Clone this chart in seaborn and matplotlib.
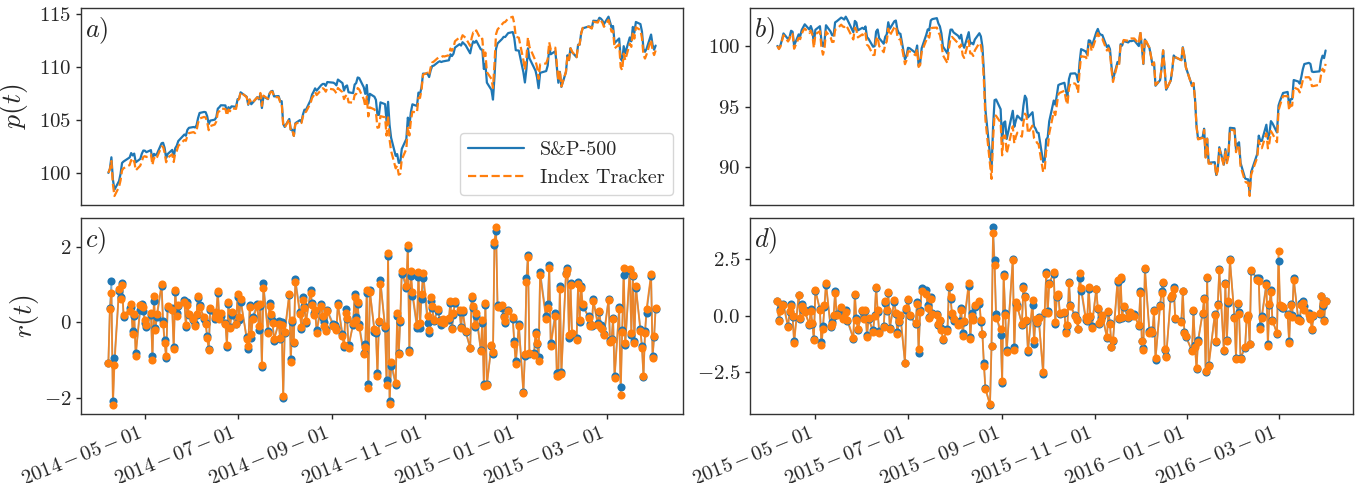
import numpy as np
import pandas as pd
import matplotlib
matplotlib.use('Agg')
import matplotlib.pyplot as plt
import matplotlib.dates as mdates
import matplotlib.ticker as mticker
import seaborn as sns

# NYSE holidays inside the two windows
holidays = ['2014-04-18', '2014-05-26', '2014-07-04', '2014-09-01', '2014-11-27', '2014-12-25',
            '2015-01-01', '2015-01-19', '2015-02-16', '2015-04-03', '2015-05-25', '2015-07-03',
            '2015-09-07', '2015-11-26', '2015-12-25', '2016-01-01', '2016-01-18', '2016-02-15',
            '2016-03-25']

# S&P-500 closes, first value is the day before the window (used for the first return)
sp_close_a = [
    1865.09, 1845.04, 1851.96, 1872.18, 1833.08, 1815.69, 1830.61, 1842.98, 1862.31, 1864.85,
    1871.89, 1879.55, 1875.39, 1878.61, 1863.40, 1869.43, 1878.33, 1883.95,
    1883.68, 1881.14, 1884.66, 1867.72, 1878.21, 1875.63, 1878.48, 1896.65, 1897.45, 1888.53,
    1870.85, 1877.86, 1885.08, 1872.83, 1888.03, 1892.49, 1900.53, 1911.91, 1909.78, 1920.03, 1923.57,
    1924.97, 1924.24, 1927.88, 1940.46, 1949.44, 1951.27, 1950.79, 1943.89, 1930.11, 1936.16,
    1937.78, 1941.99, 1956.98, 1959.48, 1962.87, 1962.61, 1949.98, 1959.53, 1957.22, 1960.96, 1960.23,
    1973.32, 1974.62, 1985.44, 1977.65, 1963.71, 1972.83, 1964.68, 1967.57, 1977.10, 1973.28,
    1981.57, 1958.12, 1978.22, 1973.63, 1983.53, 1987.01, 1987.98, 1978.34, 1978.91, 1969.95,
    1970.07, 1930.67,
    1925.15, 1938.99, 1920.21, 1920.24, 1909.57, 1931.59, 1936.92, 1933.75, 1946.72, 1955.18,
    1955.06, 1971.74, 1981.60, 1986.51, 1992.37, 1988.40, 1997.92, 2000.02, 2000.12, 1996.74, 2003.37,
    2002.28, 2000.72, 1997.65, 2007.71, 2001.54, 1988.44, 1995.69, 1997.45, 1985.54, 1984.13,
    1998.98, 2001.57, 2011.36, 2010.40, 1994.29, 1982.77, 1998.30, 1965.99, 1982.85, 1977.80, 1972.29,
    1946.16, 1946.17, 1967.90, 1964.82, 1935.10, 1968.89, 1928.21, 1906.13, 1874.74, 1877.70,
    1862.49, 1862.76, 1886.76, 1904.01, 1941.28, 1927.11, 1950.82, 1964.58, 1961.63, 1985.05,
    1982.30, 1994.65, 2018.05,
    2017.81, 2012.10, 2023.57, 2031.21, 2031.92, 2038.26, 2039.68, 2038.25, 2039.33, 2039.82,
    2041.32, 2051.80, 2048.72, 2052.75, 2063.50, 2069.41, 2067.03, 2072.83, 2067.56,
    2053.44, 2066.55, 2074.33, 2071.92, 2075.37, 2060.31, 2059.82, 2026.14, 2035.33, 2002.33,
    1989.63, 1972.74, 2012.89, 2061.23, 2070.65, 2078.54, 2082.17, 2081.88, 2088.77, 2090.57,
    2080.35, 2058.90,
    2058.20, 2020.58, 2002.61, 2025.90, 2062.14, 2044.81, 2028.26, 2023.03, 2011.27, 1992.67,
    2019.42, 2022.55, 2032.12, 2063.15, 2051.82, 2057.09, 2029.55, 2002.16, 2021.25, 1994.99,
    2020.85, 2050.03, 2041.51, 2062.52, 2055.47, 2046.74, 2068.59, 2068.53, 2088.48, 2096.99,
    2100.34, 2099.68, 2097.45, 2110.30, 2109.66, 2115.48, 2113.86, 2110.74, 2104.50,
    2117.39, 2107.78, 2098.53, 2101.04, 2071.26, 2079.43, 2044.16, 2040.24, 2065.95, 2053.40,
    2081.19, 2074.28, 2099.50, 2089.27, 2108.10, 2104.42, 2091.50, 2061.05, 2056.15, 2061.02,
    2086.24, 2067.89,
    2059.69, 2066.96]

sp_close_b = [
    2066.96, 2080.62, 2076.33, 2081.90, 2091.18, 2102.06, 2092.43, 2095.84, 2106.63, 2104.99,
    2081.18, 2100.40, 2097.29, 2107.96, 2112.93, 2117.69, 2108.92, 2114.76, 2106.85, 2085.51,
    2108.29, 2114.49, 2089.46, 2080.15, 2088.00, 2116.10, 2105.33, 2099.12, 2098.48, 2121.10,
    2122.73, 2129.20, 2127.83, 2125.85, 2130.82, 2126.06, 2104.20, 2123.48, 2120.79, 2107.39,
    2111.73, 2109.60, 2114.07, 2095.84, 2092.83, 2079.28, 2080.15, 2105.20, 2108.86, 2094.11,
    2084.43, 2096.29, 2100.44, 2121.24, 2109.99, 2122.85, 2124.20, 2108.58, 2102.31, 2101.49,
    2057.64, 2063.11,
    2077.42, 2076.78, 2068.76, 2081.34, 2046.68, 2051.31, 2076.62, 2099.60, 2108.95, 2107.40,
    2124.29, 2126.64, 2128.28, 2119.21, 2114.15, 2102.15, 2079.65, 2067.64, 2093.25, 2108.57,
    2108.63, 2103.84,
    2098.04, 2093.32, 2099.84, 2083.56, 2077.57, 2104.18, 2084.07, 2086.05, 2083.39, 2091.54,
    2102.44, 2096.92, 2079.61, 2035.73, 1970.89, 1893.21, 1867.61, 1940.51, 1987.66, 1988.87, 1972.18,
    1913.85, 1948.86, 1951.13, 1921.22, 1969.41, 1942.04, 1952.29, 1961.05, 1953.03, 1978.09,
    1995.31, 1990.20, 1958.03, 1966.97, 1942.74, 1938.76, 1932.24, 1931.34, 1881.77, 1884.09, 1920.03,
    1923.82, 1951.36, 1987.05, 1979.92, 1995.83, 2013.43, 2014.89, 2017.46, 2003.69, 1994.24,
    2023.86, 2033.11, 2033.66, 2030.77, 2018.94, 2052.51, 2075.15, 2071.18, 2065.89, 2090.35,
    2089.41, 2079.36,
    2104.05, 2109.79, 2102.31, 2099.93, 2099.20, 2078.58, 2081.72, 2075.00, 2045.97, 2023.04,
    2053.19, 2050.44, 2083.58, 2081.24, 2089.17, 2086.59, 2089.14, 2088.87, 2090.11, 2080.41,
    2102.63, 2079.51, 2049.62, 2091.69, 2077.07, 2063.59, 2047.62, 2052.23, 2012.37, 2021.94,
    2043.41, 2073.07, 2041.89, 2005.55, 2021.15, 2038.97, 2064.29, 2060.99, 2056.50, 2078.36,
    2063.36, 2043.94,
    2012.66, 2016.71, 1990.26, 1943.09, 1922.03, 1923.67, 1938.68, 1890.28, 1921.84, 1880.33,
    1881.33, 1859.33, 1868.99, 1906.90, 1877.08, 1903.63, 1882.95, 1893.36, 1940.24,
    1939.38, 1903.03, 1912.53, 1915.45, 1880.05, 1853.44, 1852.21, 1851.86, 1829.08, 1864.78,
    1895.58, 1926.82, 1917.83, 1917.78, 1945.50, 1921.27, 1929.80, 1951.70, 1948.05, 1932.23,
    1978.35, 1986.45, 1993.40, 1999.99, 2001.76, 1979.26, 1989.26, 1989.57, 2022.19, 2019.64,
    2015.93, 2027.22, 2040.59, 2049.58, 2051.60, 2049.80, 2036.71, 2035.94, 2037.05, 2055.01,
    2063.95, 2059.74,
    2072.78]

# index tracker minus S&P-500 on the p(t) scale, in hundredths
tracker_gap_a = [
    0, 0, -3, -35, -44, -60, -55, -62, -70, -64, -72, -66, -74, -68, -76, -64, -70, -60,
    -52, -46, -40, -48, -36, -42, -34, -30, -38, -45, -40, -35, -42, -48, -44, -50, -46, -52, -48, -55, -50,
    -48, -54, -50, -45, -52, -47, -50, -55, -58, -52, -46, -40, -35, -38, -30, -34, -28, -22, -26, -18, -20,
    -12, -5, 2, -4, 6, 0, 10, 4, -2, 8, 15, 20, 8, 2, -6, -2, -10, -5, -12, -8, -15, -10,
    -6, -2, -10, -4, 0, -8, -14, -10, -18, -24, -20, -28, -32, -38, -34, -42, -46, -40, -50, -55, -60,
    -64, -70, -75, -80, -86, -80, -92, -88, -95, -90, -98, -104, -100, -108, -112, -118, -110, -122, -128, -120, -115,
    -122, -118, -130, -124, -136, -130, -138, -125, -118, -110, -112, -106, -100, -95, -88, -92, -80, -70, -62, -48,
    -36, -24, -10,
    10, 18, 28, 34, 38, 42, 38, 46, 50, 44, 48, 54, 50, 56, 60, 64, 60, 66, 70,
    70, 76, 84, 90, 98, 94, 104, 98, 106, 100, 104, 110, 122, 138, 132, 140, 136, 142, 138, 145, 136, 128,
    122, 115, 120, 110, 104, 108, 100, 94, 98, 88, 80, 72, 62, 52, 44, 34, 26, 18, 10, 4,
    2, -4, 4, -2, 6, 0, -6, 2, -4, 4, -2, -8, -4, -10, -14, -10, -18, -22, -26,
    -30, -36, -40, -44, -50, -56, -80, -88, -70, -64, -58, -52, -48, -55, -50, -56, -62, -58, -64, -52, -48, -54,
    -50, -46]

tracker_gap_b = [
    0, 0, -5, -12, -8, -15, -20, -14, -22, -18, -26, -30, -24, -32, -28, -35, -30, -38, -34, -40,
    -36, -42, -55, -70, -60, -52, -48, -56, -52, -60, -64, -58, -66, -62, -70, -65, -60, -55, -62, -58,
    -54, -60, -56, -64, -60, -68, -72, -66, -60, -66, -70, -64, -58, -52, -56, -50, -46, -52, -48, -42, -40, -35,
    -30, -26, -20, -28, -10, -16, -30, -45, -55, -60, -66, -72, -78, -74, -70, -76, -72, -80, -76, -70, -60, -50,
    -62, -74, -80, -90, -84, -70, -78, -88, -96, -90, -80, -74, -70, -78, -82, -76, -72, -100, -120, -135, -110,
    -100, -108, -116, -120, -128, -136, -132, -140, -134, -142, -148, -140, -130, -110, -96, -90, -86, -92, -84, -80, -90,
    -96, -100, -92, -86, -80, -74, -70, -66, -72, -68, -74, -78, -84, -88, -90, -70, -58, -46, -40, -34, -30, -36,
    -40, -34, -30, -36, -32, -28, -24, -30, -26, -20, -14, -10, -4, 2, 8, 14, 18, 22, 16, 20,
    14, 10, 4, 8, 2, -2, 4, 0, 6, 2, -4, 0, 4, -2, 2, 6, 0, 4, -2, 2, -4, 0,
    -4, 2, -6, -2, -8, -4, -10, -6, -2, -8, -12, -6, -10, -14, -8, -12, -16, -10, -14,
    -18, -22, -16, -24, -28, -24, -30, -26, -28, -22, -30, -40, -52, -60, -70, -78, -74, -82, -86, -80,
    -40, -36, -30, -26, -34, -42, -48, -54, -60, -66, -72, -80, -90, -110, -118, -124, -120, -116, -110, -115, -108, -112,
    -110]

panel_labels = ['a', 'b', 'c', 'd']
series_names = ['S&P-500', 'Index Tracker']


def trading_days(start, end, n):
    d = pd.bdate_range(start, end, freq='C', holidays=holidays)
    if len(d) != n:
        d = pd.date_range(start, end, periods=n)
    return d


def prepare(dates, close, gap):
    close = np.asarray(close, dtype=float)
    gap = np.asarray(gap, dtype=float) / 100.0
    p_full = 100.0 * close / close[1]
    t_full = p_full + gap
    r_sp = 100.0 * np.diff(p_full) / p_full[:-1]
    r_tr = 100.0 * np.diff(t_full) / t_full[:-1]
    return dates[1:], p_full[1:], t_full[1:], r_sp, r_tr


dates_a = trading_days('2014-04-04', '2015-04-02', len(sp_close_a))
dates_b = trading_days('2015-04-02', '2016-04-01', len(sp_close_b))
cols = [prepare(dates_a, sp_close_a, tracker_gap_a), prepare(dates_b, sp_close_b, tracker_gap_b)]

sns.set_style('ticks')
plt.rcParams['font.family'] = 'serif'
plt.rcParams['font.serif'] = ['cmr10', 'DejaVu Serif']
plt.rcParams['mathtext.fontset'] = 'cm'
plt.rcParams['axes.unicode_minus'] = False

blue, orange = '#1f77b4', '#ff7f0e'
W, H = 1361, 483
fig = plt.figure(figsize=(W / 100, H / 100), dpi=100)

lefts = [81, 750]
widths = [602, 603]
axes_top, axes_bot = [], []
for j in range(2):
    axb = fig.add_axes([lefts[j] / W, 1 - 414 / H, widths[j] / W, 196 / H])
    axt = fig.add_axes([lefts[j] / W, 1 - 205 / H, widths[j] / W, 197.3 / H], sharex=axb)
    axes_top.append(axt)
    axes_bot.append(axb)

for j, (d, p, t, r_sp, r_tr) in enumerate(cols):
    axt, axb = axes_top[j], axes_bot[j]
    sns.lineplot(x=d, y=p, ax=axt, color=blue, lw=1.6, label=series_names[0], estimator=None)
    sns.lineplot(x=d, y=t, ax=axt, color=orange, lw=1.6, linestyle='--', label=series_names[1],
                 estimator=None)

    sns.lineplot(x=d, y=r_sp, ax=axb, color=blue, lw=1.2, alpha=0.6, estimator=None, legend=False)
    sns.scatterplot(x=d, y=r_sp, ax=axb, color=blue, s=34, linewidth=0, zorder=3, legend=False)
    sns.lineplot(x=d, y=r_tr, ax=axb, color=orange, lw=1.3, alpha=0.85, estimator=None, legend=False)
    sns.scatterplot(x=d, y=r_tr, ax=axb, color=orange, s=34, linewidth=0, zorder=4, legend=False)

    axt.yaxis.set_major_locator(mticker.MultipleLocator(5))
    axt.yaxis.set_major_formatter(mticker.FuncFormatter(lambda v, pos: '$%d$' % round(v)))
    axt.tick_params(axis='x', bottom=False, labelbottom=False)
    if j == 0:
        axb.yaxis.set_major_locator(mticker.MultipleLocator(2))
        axb.yaxis.set_major_formatter(mticker.FuncFormatter(lambda v, pos: '$%d$' % round(v)))
    else:
        axb.yaxis.set_major_locator(mticker.MultipleLocator(2.5))
        axb.yaxis.set_major_formatter(mticker.FuncFormatter(lambda v, pos: '$%.1f$' % v))

    axb.xaxis.set_major_locator(mdates.MonthLocator(bymonth=[1, 3, 5, 7, 9, 11], bymonthday=1))
    axb.xaxis.set_major_formatter(mticker.FuncFormatter(
        lambda v, pos: mdates.num2date(v).strftime(r'$%Y\,{-}\,%m\,{-}\,%d$')))

    for ax in (axt, axb):
        ax.set_xlabel('')
        ax.set_ylabel('')
        ax.tick_params(labelsize=15, length=3.5, width=1)
        for s in ax.spines.values():
            s.set_color('0.2')
            s.set_linewidth(1.0)

for k, ax in enumerate([axes_top[0], axes_top[1], axes_bot[0], axes_bot[1]]):
    ax.text(0.006, 0.96, '$%s)$' % panel_labels[k], transform=ax.transAxes,
            ha='left', va='top', fontsize=19)

axes_top[0].legend(loc='lower right', fontsize=14.5, handlelength=2.8, framealpha=0.8)
axes_top[1].get_legend().remove()
axes_top[0].set_ylabel('$p(t)$', fontsize=20, labelpad=6)
axes_bot[0].set_ylabel('$r(t)$', fontsize=20, labelpad=2)

for ax in axes_bot:
    for lbl in ax.get_xticklabels():
        lbl.set_rotation(22)
        lbl.set_ha('right')

fig.savefig('out.png', dpi=100)
